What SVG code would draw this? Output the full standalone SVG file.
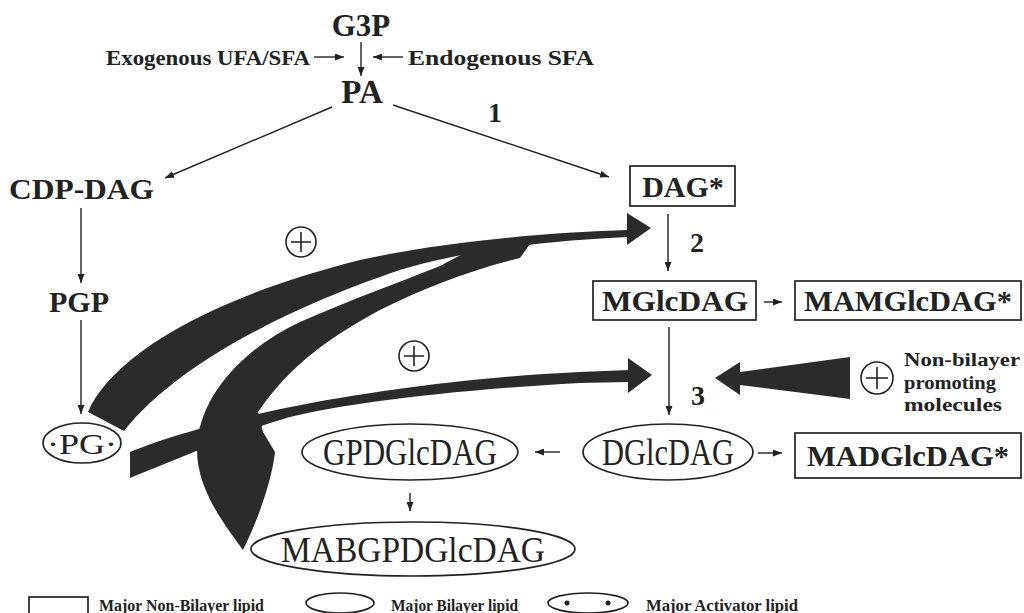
<svg xmlns="http://www.w3.org/2000/svg" width="1024" height="613" viewBox="0 0 1024 613">
<defs>
<marker id="ah" markerUnits="userSpaceOnUse" markerWidth="9" markerHeight="7" refX="9" refY="3.5" orient="auto">
<path d="M0,0 L9,3.5 L0,7 Z" fill="#222"/>
</marker>
<style>
.t{font-family:"Liberation Serif","Times New Roman",serif;fill:#222}
.b{font-weight:bold}
.ln{stroke:#222;stroke-width:1.4;fill:none;marker-end:url(#ah)}
.box{fill:none;stroke:#222;stroke-width:1.7}
.thick{fill:#2b2b2b;stroke:none}
.plus{fill:none;stroke:#222;stroke-width:1.6}
</style>
</defs>
<rect width="1024" height="613" fill="#fff"/>

<g id="connectors">
<line class="ln" x1="314" y1="57" x2="344" y2="57"/>
<line class="ln" x1="361" y1="42" x2="361" y2="76"/>
<line class="ln" x1="403" y1="57" x2="373" y2="57"/>
<line class="ln" x1="332" y1="107" x2="165" y2="178"/>
<line class="ln" x1="393" y1="105" x2="609" y2="177"/>
<line class="ln" x1="81" y1="208" x2="81" y2="283"/>
<line class="ln" x1="81" y1="320" x2="81" y2="414"/>
<line class="ln" x1="668" y1="214" x2="668" y2="271"/>
<line class="ln" x1="764" y1="302" x2="782" y2="302"/>
<line class="ln" x1="669" y1="327" x2="669" y2="415"/>
<line class="ln" x1="560" y1="452" x2="535" y2="452"/>
<line class="ln" x1="758" y1="453" x2="782" y2="453"/>
<line class="ln" x1="410" y1="493" x2="410" y2="511"/>
</g>

<g id="thick-arrows">
<path class="thick" d="M88,412 C110,360 200,300 360,260 C450,240 560,232 627,230 L627,213 L651,228 L627,245 L627,237 C560,240 450,250 380,277 C300,305 180,360 124,431 Z"/>
<path class="thick" d="M243,550 C225,525 197,490 197,450 C197,400 240,350 300,322 C350,300 400,282 440,266 L470,250 L530,244 L520,258 C470,270 420,290 380,310 C330,337 290,365 258,412 L263,432 L275,452 C272,480 258,520 243,550 Z"/>
<path class="thick" d="M130,452 C160,440 200,427 267,412 C330,398 450,378 580,372 L628,370 L628,358 L652,375 L628,393 L628,382 L580,383 C450,390 330,405 280,420 C240,432 200,450 130,478 Z"/>
<path class="thick" d="M715,378 L740,362 L740,372 L850,357 L850,399 L740,385 L740,395 Z"/>
</g>

<g id="plus1"><circle class="plus" cx="301" cy="242" r="15"/><path class="plus" d="M291,242 H311 M301,232 V252"/></g>
<g id="plus2"><circle class="plus" cx="414" cy="356" r="15"/><path class="plus" d="M404,356 H424 M414,346 V366"/></g>
<g id="plus3"><circle class="plus" cx="877" cy="378" r="16"/><path class="plus" d="M866,378 H888 M877,367 V389"/></g>

<g id="labels-top">
<text class="t b" x="361" y="36" font-size="31" text-anchor="middle">G3P</text>
<text class="t b" x="106" y="65" font-size="20" textLength="204" lengthAdjust="spacingAndGlyphs">Exogenous UFA/SFA</text>
<text class="t b" x="408" y="65" font-size="20" textLength="186" lengthAdjust="spacingAndGlyphs">Endogenous SFA</text>
<text class="t b" x="362" y="103" font-size="33" text-anchor="middle">PA</text>
<text class="t b" x="495" y="122" font-size="28" text-anchor="middle">1</text>
<text class="t b" x="697" y="252" font-size="28" text-anchor="middle">2</text>
<text class="t b" x="698" y="405" font-size="28" text-anchor="middle">3</text>
</g>

<g id="node-cdpdag"><text class="t b" x="9" y="199" font-size="30" textLength="145" lengthAdjust="spacingAndGlyphs">CDP-DAG</text></g>
<g id="node-pgp"><text class="t b" x="79" y="312" font-size="30" text-anchor="middle">PGP</text></g>
<g id="node-pg"><ellipse class="box" cx="82" cy="443" rx="39" ry="20"/><text class="t" x="82" y="454" font-size="30" text-anchor="middle" textLength="70" lengthAdjust="spacingAndGlyphs">·PG·</text></g>

<g id="node-dag"><rect class="box" x="630" y="166" width="105" height="40"/><text class="t b" x="683" y="197" font-size="30" text-anchor="middle">DAG*</text></g>
<g id="node-mglcdag"><rect class="box" x="593" y="281" width="163" height="39"/><text class="t b" x="675" y="311" font-size="30" text-anchor="middle" textLength="146" lengthAdjust="spacingAndGlyphs">MGlcDAG</text></g>
<g id="node-mamglcdag"><rect class="box" x="795" y="281" width="226" height="39"/><text class="t b" x="908" y="311" font-size="30" text-anchor="middle" textLength="208" lengthAdjust="spacingAndGlyphs">MAMGlcDAG*</text></g>
<g id="node-dglcdag"><ellipse class="box" cx="668" cy="452" rx="85" ry="28"/><text class="t" x="668" y="465" font-size="38" text-anchor="middle" textLength="132" lengthAdjust="spacingAndGlyphs">DGlcDAG</text></g>
<g id="node-gpdglcdag"><ellipse class="box" cx="410" cy="452" rx="108" ry="28"/><text class="t" x="410" y="465" font-size="38" text-anchor="middle" textLength="174" lengthAdjust="spacingAndGlyphs">GPDGlcDAG</text></g>
<g id="node-madglcdag"><rect class="box" x="795" y="433" width="226" height="45"/><text class="t b" x="908" y="466" font-size="30" text-anchor="middle" textLength="202" lengthAdjust="spacingAndGlyphs">MADGlcDAG*</text></g>
<g id="node-mabgpdglcdag"><ellipse class="box" cx="413" cy="549" rx="162" ry="27"/><text class="t" x="413" y="562" font-size="36" text-anchor="middle" textLength="264" lengthAdjust="spacingAndGlyphs">MABGPDGlcDAG</text></g>

<g id="node-nonbilayer">
<text class="t b" x="904" y="366" font-size="19" textLength="116" lengthAdjust="spacingAndGlyphs">Non-bilayer</text>
<text class="t b" x="904" y="389" font-size="19" textLength="92" lengthAdjust="spacingAndGlyphs">promoting</text>
<text class="t b" x="904" y="411" font-size="19" textLength="98" lengthAdjust="spacingAndGlyphs">molecules</text>
</g>

<g id="legend">
<rect class="box" x="29" y="597" width="59" height="24"/>
<text class="t b" x="99" y="611" font-size="17" textLength="165" lengthAdjust="spacingAndGlyphs">Major Non-Bilayer lipid</text>
<ellipse class="box" cx="340" cy="603" rx="34" ry="10"/>
<text class="t b" x="391" y="611" font-size="17" textLength="127" lengthAdjust="spacingAndGlyphs">Major Bilayer lipid</text>
<ellipse class="box" cx="588" cy="603" rx="40" ry="10"/>
<circle cx="567" cy="603" r="2.5" fill="#222"/><circle cx="608" cy="603" r="2.5" fill="#222"/>
<text class="t b" x="646" y="611" font-size="17" textLength="152" lengthAdjust="spacingAndGlyphs">Major Activator lipid</text>
</g>
</svg>
